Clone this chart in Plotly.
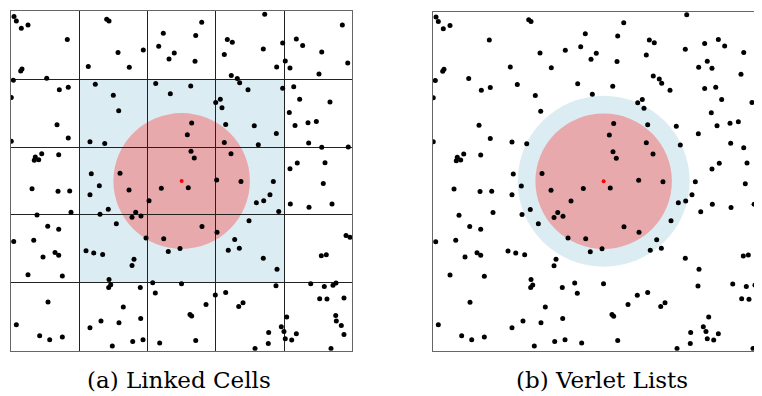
import plotly.graph_objects as go

# Particle positions in cell units (domain is 5 x 5 cells)
px = [0.044, 0.078, 0.151, 0.249, 0.825, 0.161, 0.142, 0.034, 0.523, 0.708,
      0.839, 0.004, 0.674, 0.839, 0.004, 0.356, 0.341, 0.406, 0.450, 0.699,
      1.402, 1.436, 1.568, 1.938, 1.132, 1.733, 2.231, 2.164, 2.392, 2.315,
      1.235, 1.499, 1.578, 2.120, 2.334, 1.157, 1.373, 1.176, 1.597,
      2.794, 2.706, 2.696, 3.717, 3.169, 3.242, 3.696, 3.125, 3.980, 4.180,
      4.273, 4.552, 4.854, 4.933, 4.018, 4.087, 3.892, 4.512, 3.227, 3.315,
      3.350, 2.633, 3.472, 3.980, 4.142, 3.066, 2.999, 3.091, 4.229, 4.673,
      4.077, 4.161, 4.351, 4.473, 4.361, 4.552, 4.941, 2.647, 2.583, 3.145,
      3.564, 3.887, 3.623, 3.125, 2.637, 2.685, 3.223, 4.194, 4.600, 4.087,
      3.013, 3.369, 3.843, 4.575,
      0.308, 0.689, 0.860, 0.879, 0.381, 0.538, 0.699, 0.040, 0.333, 0.645,
      0.699, 0.469, 0.249, 0.752, 1.294, 1.157, 1.729, 2.202, 2.022, 1.425,
      1.304, 1.827, 1.773, 1.904, 1.543, 1.978, 2.237, 2.476, 2.304, 1.099,
      1.212, 1.343, 1.802, 1.773, 1.436, 1.461, 1.431, 1.894, 2.076, 2.114,
      2.498, 0.542, 0.078, 0.420, 0.567, 0.752, 1.645, 1.318, 1.157, 1.582,
      1.900, 1.484, 1.783, 1.934, 2.178,
      2.597, 3.594, 3.702, 3.794, 3.922, 4.092, 4.366, 4.703, 3.487, 2.798,
      3.018, 3.277, 3.183, 3.345, 3.696, 3.897, 4.908, 4.966, 4.546, 4.619,
      3.882, 4.391, 4.590, 4.717, 4.761, 3.145, 2.993, 2.857, 3.399, 3.336,
      4.522, 4.629, 4.878, 2.622, 2.647, 4.039, 4.757, 4.766, 4.839, 3.960,
      3.999, 3.775, 4.180, 4.018, 4.112, 4.878, 2.706, 3.769, 3.575, 4.688]
py = [4.922, 4.857, 4.750, 4.799, 4.584, 4.151, 4.122, 3.985, 4.015, 3.843,
      3.882, 3.731, 3.328, 3.132, 3.084, 2.853, 2.804, 2.813, 2.901, 2.887,
      4.882, 4.857, 4.393, 4.431, 4.187, 4.176, 4.676, 4.485, 4.387, 4.299,
      3.926, 3.765, 3.534, 3.937, 3.784, 3.078, 3.054, 2.607, 2.613,
      4.838, 4.643, 4.265, 4.956, 4.584, 4.544, 4.446, 4.363, 4.534, 4.593,
      4.496, 4.401, 4.799, 4.240, 4.269, 4.166, 4.181, 4.078, 4.054, 4.010,
      3.946, 3.901, 3.843, 3.868, 3.887, 3.706, 3.657, 3.578, 3.706, 3.662,
      3.510, 3.319, 3.357, 3.378, 3.059, 2.996, 3.000, 3.353, 3.181, 3.334,
      3.313, 3.201, 3.034, 3.069, 2.937, 2.838, 2.901, 2.765, 2.769, 2.681,
      2.515, 2.493, 2.493, 2.463,
      2.387, 2.349, 2.353, 2.040, 2.000, 1.834, 1.790, 1.607, 1.628, 1.446,
      1.407, 1.382, 1.118, 1.099, 2.431, 2.299, 2.368, 2.393, 2.210, 2.084,
      2.010, 2.040, 1.966, 1.985, 1.872, 1.662, 1.651, 1.504, 1.460, 1.471,
      1.441, 1.416, 1.349, 1.254, 1.049, 0.971, 0.931, 0.931, 1.000, 0.849,
      0.988, 0.716, 0.382, 0.221, 0.162, 0.201, 0.643, 0.437, 0.338, 0.412,
      0.475, 0.069, 0.137, 0.162, 0.113,
      2.401, 2.181, 2.210, 2.299, 2.049, 2.162, 2.113, 2.162, 1.916, 1.828,
      1.746, 1.637, 1.481, 1.510, 1.363, 1.201, 1.696, 1.672, 1.397, 1.412,
      0.956, 0.985, 0.946, 0.966, 0.996, 0.857, 0.819, 0.681, 0.706, 0.651,
      0.765, 0.760, 0.775, 0.534, 0.510, 0.496, 0.519, 0.437, 0.372, 0.353,
      0.284, 0.269, 0.250, 0.176, 0.157, 0.240, 0.151, 0.107, 0.034, 0.034]

# Reference particle and cutoff radii
center = [2.5, 2.5]
cutoff = 1.0
skin_radius = 1.26
n_cells = 5
captions = ["(a) Linked Cells", "(b) Verlet Lists"]

BLUE = "#dcecf3"
PINK = "#e8a9ad"

fig = go.Figure()
for xa, ya in (("x", "y"), ("x2", "y2")):
    fig.add_trace(go.Scatter(x=px, y=py, mode="markers", xaxis=xa, yaxis=ya,
                             marker=dict(color="black", size=5, line=dict(width=0)),
                             hoverinfo="skip", showlegend=False))
    fig.add_trace(go.Scatter(x=[center[0]], y=[center[1]], mode="markers", xaxis=xa, yaxis=ya,
                             marker=dict(color="red", size=4, line=dict(width=0)),
                             hoverinfo="skip", showlegend=False))

# (a) linked cells: neighbour cells block + cutoff circle
fig.add_shape(type="rect", xref="x", yref="y", x0=1, x1=4, y0=1, y1=4,
              fillcolor=BLUE, line=dict(width=0), layer="below")
fig.add_shape(type="circle", xref="x", yref="y",
              x0=center[0] - cutoff, x1=center[0] + cutoff,
              y0=center[1] - cutoff, y1=center[1] + cutoff,
              fillcolor=PINK, line=dict(width=0), layer="below")
# (b) verlet lists: skin circle + cutoff circle
fig.add_shape(type="circle", xref="x2", yref="y2",
              x0=center[0] - skin_radius, x1=center[0] + skin_radius,
              y0=center[1] - skin_radius, y1=center[1] + skin_radius,
              fillcolor=BLUE, line=dict(width=0), layer="below")
fig.add_shape(type="circle", xref="x2", yref="y2",
              x0=center[0] - cutoff, x1=center[0] + cutoff,
              y0=center[1] - cutoff, y1=center[1] + cutoff,
              fillcolor=PINK, line=dict(width=0), layer="below")

# The page body has an 8px margin, so the figure is placed at (8, 8)
OFF = 8
W, H = 762 - OFF, 396 - OFF
def fx(p):
    return (p - OFF) / W
def fy(p):
    return 1 - (p - OFF) / H

ax_common = dict(showticklabels=False, ticks="", zeroline=False, showline=True,
                 linecolor="#666666", linewidth=1.3)
grid = dict(showgrid=True, tickmode="array", tickvals=list(range(1, n_cells)),
            gridcolor="#222222", gridwidth=1.2)
fig.update_layout(
    width=W, height=H, margin=dict(l=0, r=0, t=0, b=0),
    paper_bgcolor="white", plot_bgcolor="rgba(0,0,0,0)",
    xaxis=dict(domain=[fx(11), fx(352.3)], range=[0, n_cells], mirror=True, **grid, **ax_common),
    yaxis=dict(domain=[fy(350.7), fy(11.3)], range=[0, n_cells], mirror=True, **grid, **ax_common),
    xaxis2=dict(domain=[fx(433), 1], range=[0, (762 - 433) / 68.26], mirror=True,
                showgrid=False, anchor="y2", **ax_common),
    yaxis2=dict(domain=[fy(350.7), fy(11.8)], range=[0, n_cells], mirror=False,
                showgrid=False, anchor="x2", **ax_common),
)
for cx, text in zip([179, 601.5], captions):
    fig.add_annotation(x=fx(cx), y=fy(380), xref="paper", yref="paper", text=text,
                       showarrow=False, xanchor="center", yanchor="middle",
                       font=dict(family="DejaVu Serif", size=23, color="black"))

fig.write_html("out.html")
